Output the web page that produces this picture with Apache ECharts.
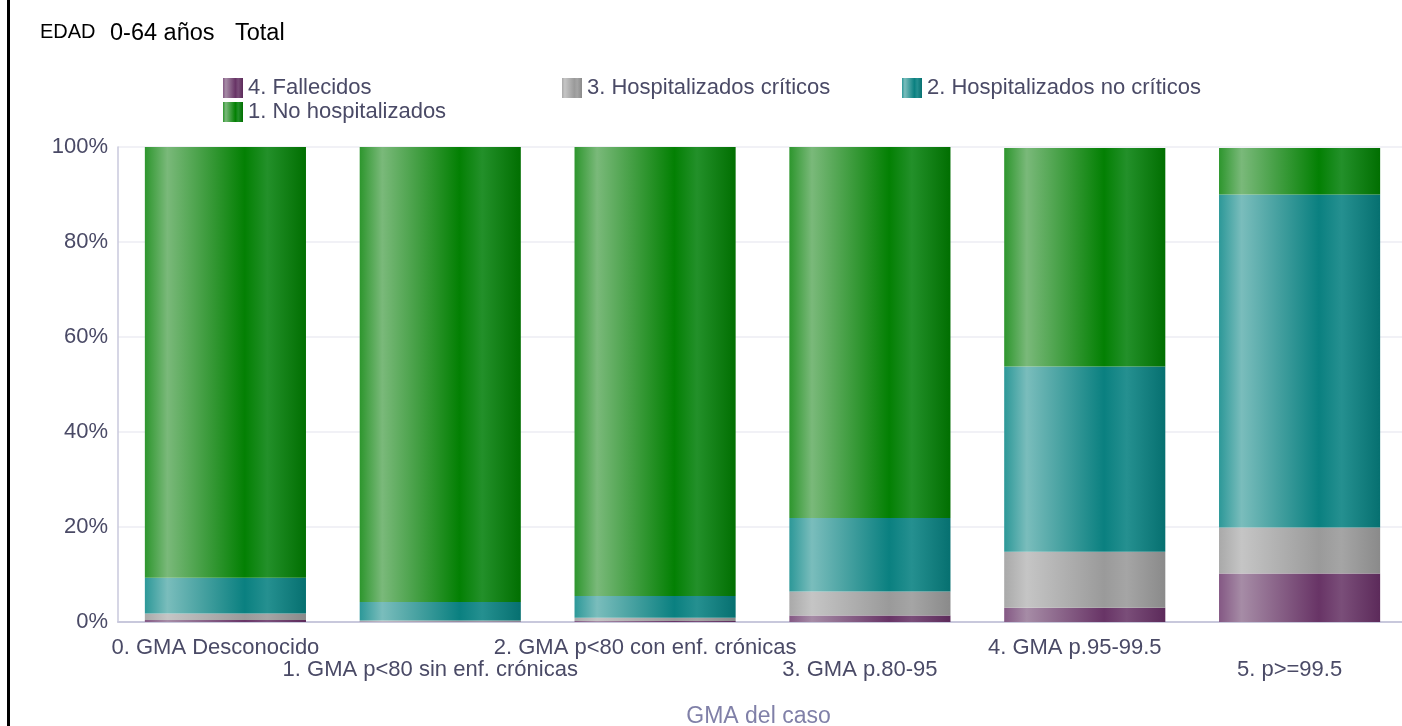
<!DOCTYPE html>
<html>
<head>
<meta charset="utf-8">
<script src="https://cdn.jsdelivr.net/npm/echarts@6/dist/echarts.min.js"></script>
<style>
html,body{margin:0;padding:0;background:#fff;}
#chart{width:1402px;height:726px;}
</style>
</head>
<body>
<div id="chart"></div>
<script>
const categories = [
  '0. GMA Desconocido',
  '1. GMA p<80 sin enf. crónicas',
  '2. GMA p<80 con enf. crónicas',
  '3. GMA p.80-95',
  '4. GMA p.95-99.5',
  '5. p>=99.5'
];
const seriesNames = ['4. Fallecidos', '3. Hospitalizados críticos', '2. Hospitalizados no críticos', '1. No hospitalizados'];
const fallecidos     = [0.4, 0.1, 0.2, 1.35, 3.0, 10.2];
const criticos       = [1.4, 0.2, 0.7, 5.05, 11.8, 9.7];
const noCriticos     = [7.5, 3.9, 4.6, 15.5, 39.0, 70.1];
const noHosp         = [90.7, 95.8, 94.5, 78.1, 46.0, 9.8];
const yTicks = [0, 20, 40, 60, 80, 100];
const titleParts = ['EDAD', '0-64 años', 'Total'];

const palettes = [
  ['#845884', '#a68ca6', '#683466', '#7a4e79', '#5c2a5a'],
  ['#a9a9a9', '#c5c5c5', '#9a9a9a', '#a5a5a5', '#8a8a8a'],
  ['#2c9898', '#7abdbc', '#0a8080', '#259090', '#067070'],
  ['#2d962d', '#7ab97a', '#038003', '#23902a', '#016f01']
];
function grad(p) {
  return new echarts.graphic.LinearGradient(0, 0, 1, 0, [
    {offset: 0, color: p[0]},
    {offset: 0.14, color: p[1]},
    {offset: 0.62, color: p[2]},
    {offset: 0.76, color: p[3]},
    {offset: 1, color: p[4]}
  ]);
}
const values = [fallecidos, criticos, noCriticos, noHosp];

const chart = echarts.init(document.getElementById('chart'));
const font = 'Liberation Sans, Arial, sans-serif';
const legendText = {fontSize: 22, color: '#4a4a66', fontFamily: font};
chart.setOption({
  animation: false,
  backgroundColor: '#fff',
  textStyle: {fontFamily: font},
  graphic: [
    {type: 'rect', left: 7, top: 0, shape: {width: 3, height: 726}, style: {fill: '#000'}},
    {type: 'text', x: 40, y: 42, style: {text: titleParts[0], font: '20px ' + font, fill: '#000', textVerticalAlign: 'bottom'}},
    {type: 'text', x: 110, y: 46, style: {text: titleParts[1], font: '23.5px ' + font, fill: '#000', textVerticalAlign: 'bottom'}},
    {type: 'text', x: 235, y: 46, style: {text: titleParts[2], font: '23.5px ' + font, fill: '#000', textVerticalAlign: 'bottom'}}
  ],
  legend: [
    {left: 218, top: 72, orient: 'vertical', icon: 'rect', itemWidth: 20, itemHeight: 20, itemGap: 2,
     data: [seriesNames[0], seriesNames[3]], textStyle: legendText, selectedMode: false},
    {left: 557, top: 72, icon: 'rect', itemWidth: 20, itemHeight: 20, data: [seriesNames[1]], textStyle: legendText, selectedMode: false},
    {left: 897, top: 72, icon: 'rect', itemWidth: 20, itemHeight: 20, data: [seriesNames[2]], textStyle: legendText, selectedMode: false}
  ],
  grid: {left: 118, right: -5, top: 147, bottom: 104, containLabel: false, outerBoundsMode: 'none'},
  xAxis: {
    type: 'category',
    data: categories,
    axisTick: {show: false},
    axisLine: {lineStyle: {color: '#c8c8dc', width: 2}},
    axisLabel: {
      interval: 0, margin: 15, fontSize: 22, color: '#4a4a66', lineHeight: 22, fontFamily: font,
      padding: [0, 20, 0, 0],
      formatter: function (v, i) { return i % 2 ? '\n' + v : v; }
    },
    name: 'GMA del caso', nameLocation: 'middle', nameGap: 83,
    nameTextStyle: {fontSize: 23, color: '#8080a8', fontFamily: font, padding: [0, 8, 0, 0]}
  },
  yAxis: {
    type: 'value', min: 0, max: 100, interval: 20,
    axisLine: {show: true, lineStyle: {color: '#c8c8dc', width: 1.5}},
    axisTick: {show: false},
    splitLine: {lineStyle: {color: '#ececf3', width: 1.5}},
    axisLabel: {
      margin: 10, fontSize: 22, color: '#4a4a66', fontFamily: font,
      formatter: function (v) { return yTicks.indexOf(v) >= 0 ? v + '%' : ''; }
    }
  },
  series: seriesNames.map(function (n, k) {
    return {
      name: n, type: 'bar', stack: 'total', barCategoryGap: '25%',
      data: values[k],
      itemStyle: {color: grad(palettes[k])}
    };
  })
});
</script>
</body>
</html>
